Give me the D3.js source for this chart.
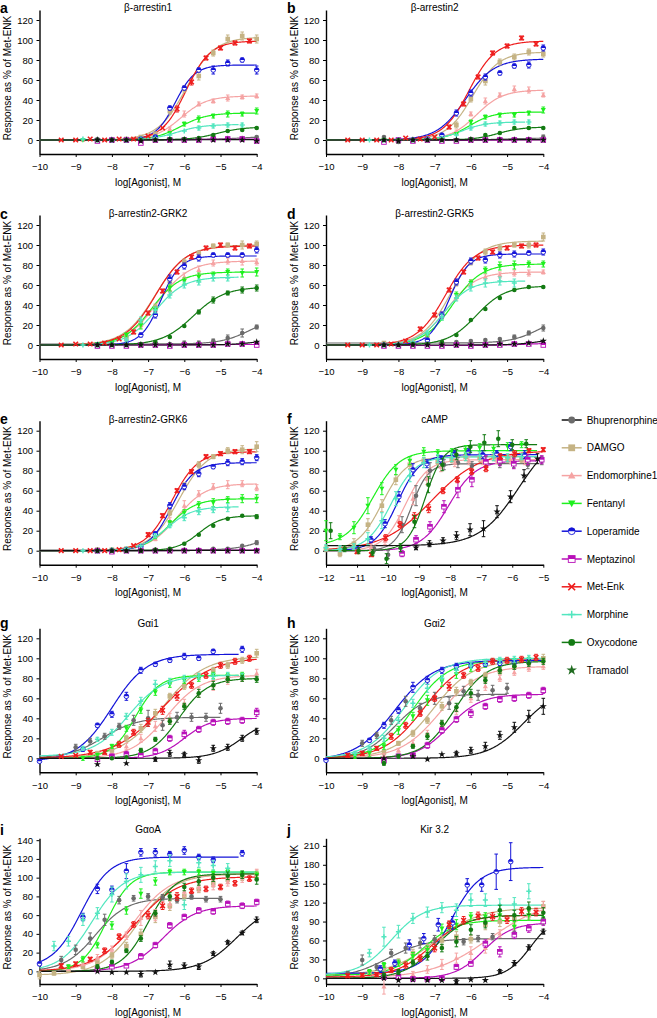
<!DOCTYPE html>
<html><head><meta charset="utf-8">
<script src="https://cdn.jsdelivr.net/npm/d3@7"></script>
<style>body{margin:0;background:#fff}svg{display:block}text{font-family:"Liberation Sans",Arial,Helvetica,sans-serif}</style>
</head><body><svg id="chart" width="657" height="1018"></svg>
<script>
// ---------------- data ----------------
const drugs = ["Bhuprenorphine","DAMGO","Endomorphine1","Fentanyl","Loperamide","Meptazinol","Met-Enk","Morphine","Oxycodone","Tramadol"];
const drugColors = ["#6b6b6b","#c5b384","#f5a3a3","#1ef01e","#1414d8","#b80fb8","#ee1c1c","#52e6bf","#137a13","#111111"];
const legendLineColors = ["#111111","#c5b384","#f5a3a3","#1ef01e","#1414d8","#b80fb8","#ee1c1c","#52e6bf","#137a13",null];
const legendMarkerColors = ["#6b6b6b","#c5b384","#f5a3a3","#1ef01e","#1414d8","#b80fb8","#ee1c1c","#52e6bf","#137a13","#1f6b1f"];
const panelLetters = ["a","b","c","d","e","f","g","h","i","j"];
const panelTitles = ["β-arrestin1","β-arrestin2","β-arrestin2-GRK2","β-arrestin2-GRK5","β-arrestin2-GRK6","cAMP","Gαi1","Gαi2","GαoA","Kir 3.2"];
const xDomains = [[-10,-4],[-10,-4],[-10,-4],[-10,-4],[-10,-4],[-12,-5],[-10,-4],[-10,-4],[-10,-4],[-10,-4]];
const yDomains = [[-14,130],[-14,130],[-14,130],[-14,130],[-14,130],[-14,130],[-14,130],[-14,130],[-13.5,142],[-9,222]];
const yTickSets = [
 [0,20,40,60,80,100,120],[0,20,40,60,80,100,120],[0,20,40,60,80,100,120],[0,20,40,60,80,100,120],
 [0,20,40,60,80,100,120],[0,20,40,60,80,100,120],[0,20,40,60,80,100,120],[0,20,40,60,80,100,120],
 [0,20,40,60,80,100,120,140],[0,30,60,90,120,150,180,210]];
const xTickSets = [
 [-10,-9,-8,-7,-6,-5,-4],[-10,-9,-8,-7,-6,-5,-4],[-10,-9,-8,-7,-6,-5,-4],[-10,-9,-8,-7,-6,-5,-4],
 [-10,-9,-8,-7,-6,-5,-4],[-12,-11,-10,-9,-8,-7,-6,-5],[-10,-9,-8,-7,-6,-5,-4],[-10,-9,-8,-7,-6,-5,-4],
 [-10,-9,-8,-7,-6,-5,-4],[-10,-9,-8,-7,-6,-5,-4]];
const xLabel = "log[Agonist], M";
const yLabel = "Response as % of Met-ENK";

// fitted curves: [bottom, top, logEC50, hill, xStart, xEnd] per drug
const fitA = [[0.5,4,-4.3,1,-10,-4],[0,103,-5.95,1.1,-10,-4],[0,44,-6.1,1.2,-10,-4],[0,27,-6.1,1.2,-10,-4],[0,75,-6.25,1.6,-10,-4],[0,0.8,-6,1,-10,-4],[0,99,-5.95,1.3,-10,-4],[0,15.5,-6.2,1.2,-10,-4.5],[0,13,-5.1,1.2,-10,-4],[0,0.3,-6,1,-10,-4]];
const fitB = [[0,2,-5,1,-10,-4],[0,88,-5.95,1.2,-10,-4],[0,50,-5.85,1.2,-10,-4],[0,28,-6.05,1.3,-10,-4],[0,81,-6.15,1.1,-10,-4],[-0.5,0,-6,1,-10,-4],[0,99,-6.05,1.2,-10,-4],[0,18,-6.25,1.3,-10,-4.5],[0,13,-5.25,1.3,-10,-4],[0,0.3,-6,1,-10,-4]];
const fitC = [[1,28,-4.2,1.1,-10,-4],[0,100,-6.8,1.0,-10,-4],[0,84,-6.75,1.0,-10,-4],[0,73,-6.9,1.1,-10,-4],[0,89,-6.65,1.6,-10,-4],[0,0.5,-6,1,-10,-4],[0,99,-6.8,1.05,-10,-4],[0,68,-6.8,1.1,-10,-4.5],[0,58,-5.75,1.0,-10,-4],[0,6,-4,1.2,-10,-4]];
const fitD = [[2,30,-4.1,1.1,-10,-4],[0,104,-6.55,1.1,-10,-4],[0,73,-6.65,1.1,-10,-4],[0,81,-6.5,1.1,-10,-4],[0,91,-6.6,1.6,-10,-4],[-0.5,2,-4.5,1,-10,-4],[0,100,-6.7,1.1,-10,-4],[0,64,-6.75,1.2,-10,-4.5],[0,59,-5.85,1.1,-10,-4],[0,8,-4,1.2,-10,-4]];
const fitE = [[0.5,20,-3.8,1.1,-10,-4],[0,102,-6.15,1.1,-10,-4],[0,67,-6.2,1.1,-10,-4],[0,52,-6.4,1.2,-10,-4],[0,88,-6.35,1.4,-10,-4],[0,0.5,-6,1,-10,-4],[0,99,-6.35,1.2,-10,-4],[0,44,-6.5,1.2,-10,-4.5],[0,35,-5.6,1.4,-10,-4],[0,0.3,-6,1,-10,-4]];
const fitF = [[0,87,-9.25,1.6,-12,-5.2],[0,94,-10.2,1.1,-12,-5.2],[0,91,-9.45,1.2,-12,-5.2],[5,100,-10.5,1.0,-12,-5.2],[0,96,-9.7,1.2,-12,-5.2],[0,90,-8.05,1.0,-12,-5.2],[0,100,-8.6,0.55,-12,-5],[0,94,-9.9,1.1,-12,-5.2],[0,106,-8.8,1.5,-12,-5.2],[5,120,-5.8,0.7,-12,-5.2]];
const fitG = [[0,41,-8.25,0.9,-10,-5],[0,102,-6.6,0.75,-10,-4],[0,83,-6.5,0.9,-10,-4],[0,83,-7.35,1.3,-10,-4.5],[-3,104,-8.0,0.9,-10,-4.5],[0,40,-6.0,1.2,-10,-4],[0,101,-6.6,0.65,-10,-4],[2,83,-7.55,0.9,-10,-4.5],[0,80,-6.15,1.1,-10,-4],[0,40,-4.4,1.1,-10,-4]];
const fitH = [[0,64,-8.1,1.0,-10,-5],[0,98,-7.05,0.8,-10,-4],[0,92,-6.85,0.8,-10,-4],[0,98,-7.6,0.9,-10,-4],[-2,98,-8.1,0.8,-10,-4],[0,64,-6.6,1.0,-10,-4],[0,100,-7.3,0.8,-10,-4],[0,100,-7.85,0.85,-10,-4],[0,97,-6.45,1.0,-10,-4],[0,70,-4.55,0.9,-10,-4]];
const fitI = [[0,78,-8.45,1.0,-10,-5],[-4,104,-7.3,0.85,-10,-4],[0,104,-7.4,0.85,-10,-4],[0,106,-8.15,1.3,-10,-4],[4,122,-8.85,1.1,-10,-4.5],[0,70,-6.6,0.95,-10,-4],[0,101,-7.35,0.75,-10,-4],[0,106,-8.55,1.0,-10,-4],[0,104,-7.0,1.2,-10,-4],[0,72,-4.55,0.9,-10,-4]];
const fitJ = [[0,63,-8.3,0.8,-10,-4],[5,112,-7.0,0.7,-10,-4],[0,125,-5.5,0.55,-10,-4],[5,92,-7.3,1.0,-10,-4],[8,176,-6.55,1.1,-10,-4],[0,88,-5.65,1.1,-10,-4],[2,100,-7.1,0.9,-10,-4],[5,116,-8.2,1.0,-10,-4],[0,100,-7.0,1.0,-10,-4],[0,100,-4.35,1.3,-10,-4]];

// measured points: [firstLogX, logStep, values, errors]
const ptsA = [
 [-8.4,0.4,[1,0,1,0,1,1,1,1,1,2,2,3],[1,1,1,1,1,1,1,1,1,1,1,1]],
 [-8,0.4,[0,1,3,6,29,51,64,87,101,104,101],[1,1,1,2,3,3,4,3,4,4,4]],
 [-8.8,0.4,[0,0,0,0,1,4,11,26,36,39,42,43,44],[1,1,1,1,1,1,2,3,2,2,3,2,2]],
 [-8.8,0.4,[0,0,0,0,1,3,7,16,21,24,26,26,29],[1,1,1,1,1,1,1,2,3,2,3,2,3]],
 [-8,0.4,[0,0,1,3,32,52,70,70,77,80,70],[1,1,1,1,2,2,2,4,3,2,4]],
 [-8.4,0.4,[-1,0,0,-3,0,0,0,0,1,1,1,-1],[1,1,1,1,1,1,1,1,1,1,1,1]],
 [-9.4,0.4,[0,0,1,0,1,1,4,12,31,58,82,92,97,99],[1,1,1,1,1,1,1,1,3,3,2,2,2,2]],
 [-8.8,0.4,[1,0,0,0,1,2,5,9,12,14,15,15],[1,1,1,1,1,1,1,1,2,2,2,2]],
 [-8.4,0.4,[0,0,0,0,0,1,1,2,5,9,10,12],[1,1,1,1,1,1,1,1,1,1,1,1]],
 [-8.4,0.4,[0,0,0,-1,0,0,0,0,0,0,0,-1],[0,0,0,0,0,0,0,0,0,0,0,1]]];
const ptsB = [
 [-8.4,0.4,[3,-2,0,0,0,0,1,0,1,1,1,3],[1,1,1,1,1,1,1,1,1,1,1,2]],
 [-8,0.4,[0,0,1,3,15,41,59,78,83,88,86],[1,1,1,1,3,3,4,3,3,3,3]],
 [-8.4,0.4,[0,0,0,0,1,8,26,39,45,51,50,45],[1,1,1,1,1,2,2,3,2,3,3,2]],
 [-8.4,0.4,[0,0,0,0,1,6,18,23,25,25,27,30],[1,1,1,1,1,1,2,2,2,2,2,3]],
 [-8,0.4,[0,0,1,5,27,47,63,67,74,75,92],[1,1,1,1,3,3,3,2,2,3,3]],
 [-8.4,0.4,[-2,0,-1,0,-1,-1,0,0,0,0,0,0],[1,1,1,1,1,1,1,1,1,1,1,1]],
 [-9.4,0.4,[0,0,0,0,2,1,3,13,36,63,87,94,102,96],[1,1,1,1,1,1,1,2,2,2,2,2,2,2]],
 [-8.8,0.4,[0,0,0,0,1,2,5,12,16,17,18,18],[1,1,1,1,1,1,1,2,2,2,2,2]],
 [-8.4,0.4,[0,0,0,0,0,0,1,5,7,12,12,12],[1,1,1,1,1,1,1,1,1,1,1,1]],
 [-8.4,0.4,[0,-1,0,0,0,0,0,0,0,0,0,0],[0,0,0,0,0,0,0,0,0,0,0,0]]];
const ptsC = [
 [-8.4,0.4,[-1,0,0,1,1,1,2,2,4,7,12,18],[1,1,1,1,1,1,2,2,2,3,4,2]],
 [-8.4,0.4,[0,1,8,22,38,64,83,92,99,100,100,101],[1,1,2,3,3,4,3,2,2,2,4,3]],
 [-8.4,0.4,[0,1,6,20,35,55,68,75,82,84,84,83],[1,1,2,3,3,3,4,4,3,3,4,3]],
 [-8.4,0.4,[1,2,10,20,35,57,64,68,70,73,72,73],[1,1,2,4,3,3,3,4,3,3,4,4]],
 [-8.4,0.4,[0,0,1,10,30,66,79,87,90,90,90,95],[1,1,1,2,3,4,3,3,2,2,2,3]],
 [-8.4,0.4,[-1,-1,-1,0,0,-1,0,0,0,1,1,0],[1,1,1,1,1,1,1,1,1,1,1,1]],
 [-9.4,0.4,[0,1,1,2,6,13,32,54,73,88,97,100,97,99],[1,1,1,1,1,2,2,2,2,2,2,2,2,2]],
 [-8.8,0.4,[0,0,1,5,25,35,50,60,63,67,67],[1,1,1,2,3,3,3,3,3,3,3]],
 [-8.4,0.4,[0,0,0,1,3,8,19,33,45,52,55,57],[1,1,1,1,1,1,1,2,3,2,3,3]],
 [-8.4,0.4,[0,0,0,0,0,0,0,0,0,1,1,3],[0,0,0,0,0,0,0,0,0,0,0,1]]];
const ptsD = [
 [-8.4,0.4,[1,1,1,2,3,3,4,5,6,8,12,17],[1,1,1,1,1,1,1,1,1,2,2,3]],
 [-8.4,0.4,[2,1,3,10,30,62,83,93,97,100,100,108],[1,1,1,2,3,3,3,3,3,2,3,4]],
 [-8.4,0.4,[0,0,2,10,30,48,62,68,70,72,72,73],[1,1,1,2,3,3,3,3,3,3,3,2]],
 [-8.4,0.4,[0,0,1,10,28,50,62,75,79,80,81,81],[1,1,1,2,3,3,3,3,4,4,3,3]],
 [-8.4,0.4,[0,0,1,5,30,63,84,85,90,91,92,93],[1,1,1,1,3,3,3,3,3,3,2,3]],
 [-8.4,0.4,[-1,-1,-1,-1,-1,0,-1,0,0,1,1,0],[1,1,1,1,1,1,1,1,1,1,1,1]],
 [-9.4,0.4,[0,0,0,1,4,16,30,55,73,87,93,97,99,100],[1,1,1,1,1,2,2,2,2,2,2,2,2,2]],
 [-8.8,0.4,[0,0,1,3,12,28,47,58,62,64,62],[1,1,1,1,2,3,3,4,4,4,4]],
 [-8.4,0.4,[0,0,1,1,3,10,25,36,47,55,58,58],[1,1,1,1,1,1,1,1,1,1,1,1]],
 [-8.4,0.4,[0,0,0,0,0,0,0,0,1,1,2,4],[0,0,0,0,0,0,0,0,0,0,0,1]]];
const ptsE = [
 [-8.4,0.4,[1,0,0,0,1,1,1,1,2,2,5,8],[1,1,1,1,1,1,1,1,1,1,1,2]],
 [-8.4,0.4,[1,1,2,4,15,38,65,86,94,100,101,104],[1,1,1,1,2,3,3,3,2,3,4,5]],
 [-8.4,0.4,[0,0,1,3,12,30,45,57,64,66,67,63],[1,1,1,1,2,3,5,3,3,4,3,3]],
 [-8.4,0.4,[0,0,1,3,15,28,38,46,48,51,52,52],[1,1,1,1,3,2,3,3,4,3,4,4]],
 [-8.4,0.4,[0,0,1,4,17,45,64,77,84,88,89,93],[1,1,1,1,2,3,3,3,2,3,3,3]],
 [-8.4,0.4,[0,-1,0,0,0,0,0,0,0,0,0,0],[0,0,0,0,0,0,0,0,0,0,0,0]],
 [-9.4,0.4,[0,0,0,0,1,5,16,35,60,79,94,97,99,99],[1,1,1,1,1,1,2,2,2,2,2,2,2,2]],
 [-8.8,0.4,[0,0,1,2,5,15,25,33,39,41,43],[1,1,1,1,1,2,2,3,3,3,4]],
 [-8.4,0.4,[0,0,0,0,1,2,7,16,25,32,35,34],[1,1,1,1,1,1,1,1,1,1,1,2]],
 [-8.4,0.4,[0,0,0,0,0,0,0,0,0,0,0,0],[0,0,0,0,0,0,0,0,0,0,0,0]]];
const ptsF = [
 [-10.45,0.45,[2,-4,26,55,80,86,88,85,89,87,88,86,90],[3,4,8,10,8,5,5,4,5,4,5,4,4]],
 [-12,0.45,[2,-3,7,26,45,71,86,90,89,91,94,93,94,92,91],[3,3,5,6,6,5,4,3,3,3,4,4,4,4,3]],
 [-11,0.45,[0,3,10,30,52,72,84,88,90,90,91,91,90],[2,3,4,5,6,6,5,4,4,4,4,4,4]],
 [-12,0.45,[20,14,23,45,62,81,90,99,98,99,101,103,102,104,106],[10,3,6,8,6,5,4,4,3,3,4,4,4,4,3]],
 [-11,0.45,[2,11,27,54,81,87,91,97,99,96,97,104,96],[2,3,4,5,6,4,4,3,3,4,3,4,4]],
 [-9.55,0.45,[-3,11,24,44,61,71,89,90,87,91,91],[3,4,5,6,8,7,6,5,5,5,4]],
 [-11,0.4615,[-1,-4,13,26,34,42,60,71,79,82,94,97,100,101],[2,2,3,3,4,4,3,3,3,3,3,3,2,2]],
 [-12,0.45,[3,2,4,12,30,52,75,88,92,93,94,95,94,93,94],[3,3,3,6,8,7,6,5,4,4,4,4,4,4,3]],
 [-11.85,0.45,[20,2,0,-2,-8,3,29,66,86,96,104,108,112,106,107],[8,3,3,3,5,4,6,8,6,5,6,8,8,5,4]],
 [-9.1,0.435,[3,7,10,15,21,22,39,54,75,92],[2,3,3,4,6,8,6,6,6,5]]];
const ptsG = [
 [-9,0.4,[11,17,22,32,38,40,33,41,41,41,50],[3,3,3,3,5,8,5,5,4,4,5]],
 [-8.4,0.4,[5,8,20,30,45,62,72,82,88,93,98,105],[2,2,3,4,4,3,3,3,3,3,3,4]],
 [-8.4,0.4,[2,3,12,20,32,40,55,66,73,78,81,85],[2,2,3,4,5,5,4,5,5,4,4,4]],
 [-8.8,0.4,[0,3,12,30,48,66,74,78,80,83,82,83],[2,2,2,3,3,3,3,3,3,3,3,3]],
 [-10,0.4,[-3,null,null,9,33,44,62,88,94,98,102,100,107,null,109],[1,0,0,2,2,3,4,3,2,2,3,2,2,0,3]],
 [-8.4,0.4,[-1,2,4,3,7,20,24,29,36,37,38,46],[2,2,3,2,3,3,4,3,3,3,3,4]],
 [-9.4,0.4,[2,3,6,6,14,26,36,48,62,73,83,93,97,100],[1,1,2,2,3,3,4,4,4,3,3,3,3,3]],
 [-8.8,0.4,[10,19,26,42,57,74,77,80,82,82,83,82],[2,2,3,3,4,4,3,3,3,3,3,3]],
 [-8.4,0.4,[0,0,1,8,19,37,52,65,73,79,80,79],[1,1,1,2,2,3,3,4,4,3,3,3]],
 [-8.4,0.4,[-6,null,-5,null,-1,5,4,-2,10,11,20,27],[0,0,0,0,2,3,2,3,3,3,3,3]]];
const ptsH = [
 [-9,0.4,[15,23,38,57,50,60,55,67,63,68,70],[3,3,4,5,5,6,6,5,5,5,5]],
 [-8.4,0.4,[6,15,25,38,52,67,76,83,87,92,96,100],[2,2,3,3,4,4,3,3,3,3,3,4]],
 [-8.4,0.4,[3,8,15,25,33,48,60,72,80,86,90,92],[2,2,3,3,4,4,4,4,3,3,3,3]],
 [-9.2,0.4,[2,5,12,28,42,58,77,84,90,94,96,97,98],[2,3,3,4,4,5,5,4,3,3,3,3,3]],
 [-10,0.4,[-2,null,null,18,33,48,71,78,88,92,93,94,95,96,97],[1,0,0,2,3,3,5,4,3,3,2,2,2,2,2]],
 [-8.4,0.4,[-2,2,3,13,28,39,45,52,59,60,63,68],[2,2,2,3,3,3,4,3,3,3,3,3]],
 [-9.4,0.4,[3,5,10,22,33,45,60,72,83,90,97,98,99,101],[2,2,2,3,3,3,3,4,3,3,3,3,3,3]],
 [-9.2,0.4,[5,10,20,38,55,70,80,88,93,96,98,99,100],[2,2,3,3,4,4,3,3,3,3,3,3,3]],
 [-8.4,0.4,[-5,2,12,22,35,51,65,78,88,92,95,97],[2,2,2,3,3,4,4,3,3,3,3,3]],
 [-8.4,0.4,[0,null,2,-1,4,5,8,12,23,31,42,52],[0,0,1,0,1,2,3,4,4,5,6,8]]];
const ptsI = [
 [-9.4,0.4,[12,23,35,55,76,78,80,79,76,80,77,77],[4,5,6,6,4,3,3,3,3,3,3,3]],
 [-10,0.4,[-4,-2,1,5,10,17,27,40,58,70,80,88,94,98,101,104],[4,2,2,2,3,3,4,5,6,5,4,4,4,4,4,4]],
 [-9.2,0.4,[3,8,15,24,38,57,60,72,85,90,92,95,100,104],[2,2,3,3,4,8,6,5,5,5,5,4,5,5]],
 [-9.2,0.4,[5,13,28,49,65,83,96,106,106,106,105,106,104,103],[2,3,3,4,4,5,4,3,3,3,3,3,3,3]],
 [-10,0.4,[8,null,null,58,88,87,107,127,127,125,129,122,119,null,126],[2,0,0,4,5,4,8,4,4,3,4,3,3,0,3]],
 [-8.4,0.4,[2,5,6,16,28,49,58,65,64,72,70,74],[2,2,2,3,3,3,3,3,3,3,3,3]],
 [-9.4,0.4,[6,8,13,22,37,50,60,70,80,86,88,90,94,99],[2,2,2,3,3,3,4,4,4,3,3,3,3,3]],
 [-9.6,0.4,[27,32,55,62,82,96,103,112,118,71,116,113,110],[5,5,6,6,8,8,8,6,6,5,5,5,5]],
 [-8.4,0.4,[5,10,22,35,62,80,90,96,100,102,103,98],[2,2,2,3,3,4,4,4,4,4,4,5]],
 [-8.4,0.4,[0,-1,-1,-3,-1,7,6,5,19,31,41,55],[0,0,0,3,0,4,3,3,2,2,2,3]]];
const ptsJ = [
 [-9.4,0.4,[8,29,18,40,48,56,62,82,58,63,66],[3,8,5,6,8,8,6,8,5,5,5]],
 [-8.8,0.4,[10,16,26,40,48,60,66,62,85,90,95,100,114],[3,4,5,6,6,7,8,6,8,8,7,6,8]],
 [-8.4,0.4,[-13,2,6,14,22,32,40,48,71,85,100,114],[12,4,5,6,8,8,10,8,6,8,8,8]],
 [-8.8,0.4,[10,21,24,35,45,79,85,98,98,100,82,100,92],[4,4,5,6,6,7,8,6,6,6,8,8,6]],
 [-8.5,0.4,[15,24,53,63,85,88,148,148,169,185],[5,5,8,8,10,10,10,10,28,30]],
 [-8.4,0.4,[2,3,-1,-1,0,18,23,55,42,69,79,90],[2,2,3,3,3,4,4,6,8,6,6,6]],
 [-9.4,0.4,[4,5,6,13,21,32,48,85,92,99,98,93,106,105],[3,3,3,4,5,5,6,6,6,6,6,6,6,6]],
 [-8.8,0.4,[40,66,74,95,105,112,108,124,124,116,118,138],[6,15,10,8,8,8,10,10,10,10,10,12]],
 [-8.4,0.4,[5,10,25,35,48,58,77,88,108,100,111,104],[3,4,4,6,6,8,8,8,8,8,10,8]],
 [-8.4,0.4,[0,-3,-2,-3,-3,-5,-2,-3,11,24,49,74],[0,2,0,2,0,3,0,2,3,4,4,4]]];

const allFits = [fitA,fitB,fitC,fitD,fitE,fitF,fitG,fitH,fitI,fitJ];
const allPts = [ptsA,ptsB,ptsC,ptsD,ptsE,ptsF,ptsG,ptsH,ptsI,ptsJ];

// ---------------- layout ----------------
const colX = [[39.5,256.7],[326,543.3]];
const rowY = [[154,10],[359,215],[564.7,420.7],[772.3,628.3],[984,838.3]];
const titleBase = [11,217,423,627,833];
const letterBase = [13,219,424,628,835];
const letterX = [0,287];

const svg = d3.select("#chart");

function drawMarker(g, i, cx, cy, s, colorOverride) {
  const c = colorOverride || drugColors[i];
  switch (i) {
    case 0: case 8:
      g.append("circle").attr("cx",cx).attr("cy",cy).attr("r",s).attr("fill",c); break;
    case 1:
      g.append("rect").attr("x",cx-s).attr("y",cy-s).attr("width",2*s).attr("height",2*s).attr("fill",c); break;
    case 2:
      g.append("path").attr("d",`M${cx},${cy-s*1.15}L${cx+s*1.1},${cy+s*0.85}L${cx-s*1.1},${cy+s*0.85}Z`).attr("fill",c); break;
    case 3:
      g.append("path").attr("d",`M${cx},${cy+s*1.15}L${cx+s*1.1},${cy-s*0.85}L${cx-s*1.1},${cy-s*0.85}Z`).attr("fill",c); break;
    case 4:
      g.append("circle").attr("cx",cx).attr("cy",cy).attr("r",s).attr("fill","#fff").attr("stroke",c).attr("stroke-width",0.9);
      g.append("path").attr("d",`M${cx-s},${cy}A${s},${s} 0 0 1 ${cx+s},${cy}Z`).attr("fill",c); break;
    case 5:
      g.append("rect").attr("x",cx-s).attr("y",cy-s).attr("width",2*s).attr("height",2*s).attr("fill","#fff").attr("stroke",c).attr("stroke-width",0.9);
      g.append("rect").attr("x",cx-s).attr("y",cy-s).attr("width",2*s).attr("height",s).attr("fill",c); break;
    case 6:
      g.append("path").attr("d",`M${cx-s},${cy-s}L${cx+s},${cy+s}M${cx-s},${cy+s}L${cx+s},${cy-s}`).attr("stroke",c).attr("stroke-width",1.6).attr("fill","none"); break;
    case 7:
      g.append("path").attr("d",`M${cx-s*1.1},${cy}L${cx+s*1.1},${cy}M${cx},${cy-s*1.1}L${cx},${cy+s*1.1}`).attr("stroke",c).attr("stroke-width",1.5).attr("fill","none"); break;
    case 9:
      g.append("path").attr("transform",`translate(${cx},${cy})`).attr("d",d3.symbol(d3.symbolStar, s*s*3)()).attr("fill",c); break;
  }
}

function hillY(p, x) { return p[0] + (p[1]-p[0]) / (1 + Math.pow(10, (p[2]-x)*p[3])); }

for (let k = 0; k < 10; k++) {
  const col = k % 2, row = Math.floor(k / 2);
  const xr = colX[col], yr = rowY[row];
  const x = d3.scaleLinear().domain(xDomains[k]).range(xr);
  const y = d3.scaleLinear().domain(yDomains[k]).range(yr);
  const g = svg.append("g");

  // axes
  const xa = g.append("g").attr("transform",`translate(0,${yr[0]})`)
    .call(d3.axisBottom(x).tickValues(xTickSets[k]).tickFormat(d3.format("d")).tickSize(3).tickPadding(6.5).tickSizeOuter(0));
  const ya = g.append("g").attr("transform",`translate(${xr[0]},0)`)
    .call(d3.axisLeft(y).tickValues(yTickSets[k]).tickFormat(d3.format("d")).tickSize(3).tickPadding(3.5).tickSizeOuter(0));
  [xa,ya].forEach(a => {
    a.select(".domain").attr("stroke","#000").attr("stroke-width",1.4);
    a.selectAll(".tick line").attr("stroke","#000").attr("stroke-width",1);
    a.selectAll(".tick text").attr("font-size",9.5).attr("fill","#000").attr("font-family","Liberation Sans, Arial, sans-serif");
  });

  // labels
  g.append("text").attr("x",(xr[0]+xr[1])/2).attr("y",titleBase[row]).attr("text-anchor","middle").attr("font-size",10).text(panelTitles[k]);
  g.append("text").attr("x",letterX[col]).attr("y",letterBase[row]).attr("font-size",14).attr("font-weight","bold").text(panelLetters[k]);
  g.append("text").attr("x",(xr[0]+xr[1])/2).attr("y",yr[0]+31.5).attr("text-anchor","middle").attr("font-size",10).text(xLabel);
  g.append("text").attr("transform",`translate(${xr[0]-32},${(yr[0]+yr[1])/2-4}) rotate(-90)`).attr("dy","0.35em").attr("text-anchor","middle").attr("font-size",10).text(yLabel);

  // fitted curves
  const line = d3.line().x(d => x(d[0])).y(d => y(d[1]));
  allFits[k].forEach((p, i) => {
    const xs = d3.range(p[4], p[5] + 1e-6, 0.02);
    if (xs[xs.length-1] < p[5]) xs.push(p[5]);
    g.append("path").datum(xs.map(v => [v, hillY(p, v)]))
      .attr("d", line).attr("fill","none").attr("stroke",drugColors[i]).attr("stroke-width",1.2);
  });

  // points with error bars
  allPts[k].forEach((s, i) => {
    const [x0, dx, ys, es] = s;
    ys.forEach((v, j) => {
      if (v === null) return;
      const cx = x(x0 + dx*j), cy = y(v);
      const e = es[j] || 0;
      if (e > 0) {
        const y1 = y(v - e), y2 = y(v + e);
        if (Math.abs(y1 - y2) > 3) {
          g.append("path").attr("d",`M${cx},${y1}L${cx},${y2}M${cx-1.8},${y1}L${cx+1.8},${y1}M${cx-1.8},${y2}L${cx+1.8},${y2}`)
            .attr("stroke",drugColors[i]).attr("stroke-width",1).attr("fill","none");
        }
      }
      drawMarker(g, i, cx, cy, 2.3);
    });
  });
}

// legend
const lg = svg.append("g");
drugs.forEach((d, i) => {
  const cy = 420 + 27.8 * i;
  if (legendLineColors[i]) lg.append("line").attr("x1",561.7).attr("x2",581.7).attr("y1",cy).attr("y2",cy).attr("stroke",legendLineColors[i]).attr("stroke-width",1.5);
  drawMarker(lg, i, 571.7, cy, 3.4, legendMarkerColors[i]);
  lg.append("text").attr("x",586.7).attr("y",cy).attr("dy","0.35em").attr("font-size",10).text(d);
});
</script></body></html>
